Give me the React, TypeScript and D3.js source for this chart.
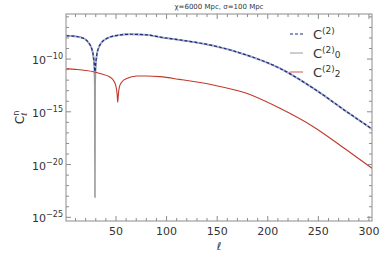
import { useMemo } from "react";
import * as d3 from "d3";

// ℓ samples and log10 of each spectrum
const ellTotal = [1, 5, 10, 15, 20, 24, 26, 27.5, 28.5, 29.2, 30, 31, 33, 36, 40, 50, 64, 80, 93.5, 113, 146, 179, 212, 245, 278, 303];
const logTotal = [-7.79, -7.8, -7.85, -7.94, -8.15, -8.6, -9.0, -9.6, -10.4, -11.2, -10.4, -9.6, -8.9, -8.4, -8.1, -7.78, -7.65, -7.7, -7.92, -8.19, -8.73, -9.62, -10.88, -12.77, -14.99, -16.63];

const ellC0 = [1, 5, 10, 15, 20, 24, 26, 27.5, 28.5, 29.0, 29.2, 29.4, 30, 31, 33, 36, 40, 50, 64, 80, 93.5, 113, 146, 179, 212, 245, 278, 303];
const logC0 = [-7.79, -7.8, -7.85, -7.94, -8.15, -8.6, -9.0, -9.7, -10.8, -12.5, -23.1, -12.5, -10.8, -9.7, -8.9, -8.4, -8.1, -7.78, -7.65, -7.7, -7.92, -8.19, -8.73, -9.62, -10.88, -12.77, -14.99, -16.63];

const ellC2 = [1, 10, 20, 27.6, 35, 44, 48, 50, 51.2, 51.7, 52.3, 53.5, 56, 60.6, 70.5, 80, 93.5, 113, 146, 179, 212, 245, 278, 303];
const logC2 = [-10.91, -10.98, -11.08, -11.2, -11.4, -11.7, -12.1, -12.6, -13.4, -14.1, -13.4, -12.6, -12.15, -11.85, -11.6, -11.6, -11.67, -11.93, -12.46, -13.25, -14.67, -16.41, -18.62, -20.35];

const xTicks = [50, 100, 150, 200, 250, 300];
const yTickExps = [-10, -15, -20, -25];

const W = 390, H = 260;
const left = 66, right = 372, top = 14, bottom = 221;
const frameColor = "#8c8c8c";
const labelColor = "#333";
const font = "'DejaVu Sans', sans-serif";

export default function App() {
  const x = useMemo(() => d3.scaleLinear().domain([0.6, 303]).range([left, right]), []);
  const y = useMemo(() => d3.scaleLinear().domain([-25.35, -5.73]).range([bottom, top]), []);

  const makeLine = (ells: number[], vals: number[]) =>
    d3.line<number>()
      .x((_, i) => x(ells[i]))
      .y((v) => y(v))
      .curve(d3.curveMonotoneX)(vals) || "";

  const minorX = d3.range(10, 301, 10);
  const minorY = d3.range(-25, -5, 1);

  return (
    <svg width={W} height={H} style={{ position: "absolute", left: 0, top: 0, background: "#fff" }} fontFamily={font}>
      <defs>
        <clipPath id="plot">
          <rect x={left} y={top} width={right - left} height={bottom - top} />
        </clipPath>
      </defs>
      <text x={(left + right) / 2} y={9} fontSize={7} textAnchor="middle" fill={labelColor}>
        χ=6000 Mpc, σ=100 Mpc
      </text>

      <g clipPath="url(#plot)" fill="none">
        <path d={makeLine(ellC0, logC0)} stroke="#9a9a9a" strokeWidth={1.6} />
        <path d={makeLine(ellTotal, logTotal)} stroke="#a9b3d6" strokeWidth={1.8} />
        <path d={makeLine(ellTotal, logTotal)} stroke="#1c2a78" strokeWidth={1.2} strokeDasharray="3,2" />
        <path d={makeLine(ellC2, logC2)} stroke="#c0392b" strokeWidth={1.1} />
      </g>

      <rect x={left} y={top} width={right - left} height={bottom - top} fill="none" stroke={frameColor} strokeWidth={1} />

      {minorX.map((t) => {
        const major = t % 50 === 0;
        const len = major ? 5 : 3;
        return (
          <g key={"x" + t} stroke={frameColor}>
            <line x1={x(t)} x2={x(t)} y1={bottom} y2={bottom - len} />
            <line x1={x(t)} x2={x(t)} y1={top} y2={top + len} />
          </g>
        );
      })}
      {minorY.map((t) => {
        const major = t % 5 === 0;
        const len = major ? 5 : 3;
        return (
          <g key={"y" + t} stroke={frameColor}>
            <line x1={left} x2={left + len} y1={y(t)} y2={y(t)} />
            <line x1={right} x2={right - len} y1={y(t)} y2={y(t)} />
          </g>
        );
      })}

      {xTicks.map((t) => (
        <text key={"xl" + t} x={x(t)} y={bottom + 14} fontSize={11} textAnchor="middle" fill={labelColor}>
          {t}
        </text>
      ))}
      {yTickExps.map((e) => (
        <text key={"yl" + e} x={left - 3} y={y(e) + 5} fontSize={11} textAnchor="end" fill={labelColor}>
          10<tspan fontSize={8} dy={-5}>{"\u2212" + Math.abs(e)}</tspan>
        </text>
      ))}

      <text x={(left + right) / 2} y={bottom + 29} fontSize={11} textAnchor="middle" fontStyle="italic" fill={labelColor}>
        ℓ
      </text>
      <text transform={`translate(24, ${(top + bottom) / 2}) rotate(-90)`} fontSize={12} textAnchor="middle" fill={labelColor}>
        C<tspan fontSize={8} dy={-5}>n</tspan><tspan fontSize={8} dy={8} dx={-5}>ℓ</tspan>
      </text>

      <g fontSize={13} fill={labelColor}>
        <line x1={290} x2={303} y1={34} y2={34} stroke="#1c2a78" strokeWidth={1.2} strokeDasharray="3,2" />
        <text x={313} y={39}>C<tspan fontSize={9} dy={-5}>(2)</tspan></text>
        <line x1={290} x2={303} y1={53} y2={53} stroke="#9a9a9a" strokeWidth={1} />
        <text x={313} y={58}>C<tspan fontSize={9} dy={-5}>(2)</tspan><tspan fontSize={9} dy={5}>0</tspan></text>
        <line x1={290} x2={303} y1={72} y2={72} stroke="#d98a80" strokeWidth={1.4} />
        <text x={313} y={77}>C<tspan fontSize={9} dy={-5}>(2)</tspan><tspan fontSize={9} dy={5}>2</tspan></text>
      </g>
    </svg>
  );
}
